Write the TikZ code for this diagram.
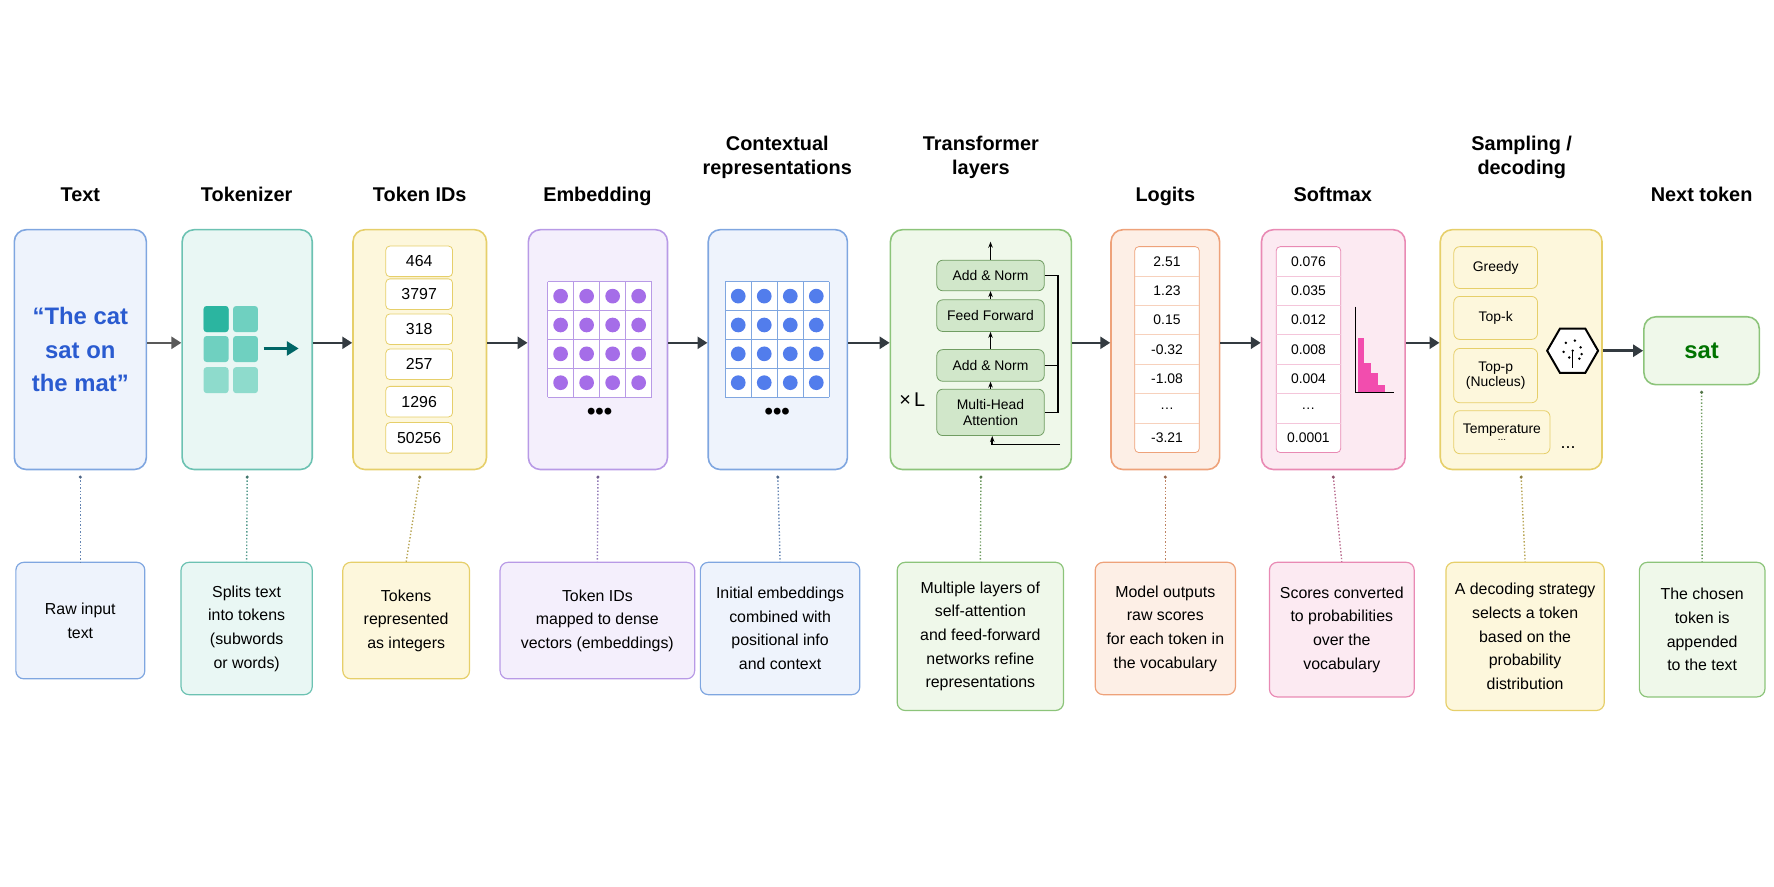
\documentclass[tikz,border=0pt]{standalone}
\usepackage{fontspec}
\setmainfont{Liberation Sans}
\usetikzlibrary{arrows.meta, shapes.geometric, positioning, calc}

\definecolor{cblue}{HTML}{7FA6E0}   \definecolor{fblue}{HTML}{EEF3FC}
\definecolor{cteal}{HTML}{6CC2B2}   \definecolor{fteal}{HTML}{E9F7F4}
\definecolor{cyel}{HTML}{E6CF6A}    \definecolor{fyel}{HTML}{FDF7DC}
\definecolor{cpur}{HTML}{B89AE6}    \definecolor{fpur}{HTML}{F4EFFC}
\definecolor{cgrn}{HTML}{8CC47A}    \definecolor{fgrn}{HTML}{EFF8EA}
\definecolor{corg}{HTML}{EEA27A}    \definecolor{forg}{HTML}{FDEFE6}
\definecolor{cpnk}{HTML}{E98AB4}    \definecolor{fpnk}{HTML}{FCEAF2}
\definecolor{tealA}{HTML}{2BB5A0}   \definecolor{tealB}{HTML}{6FD0C0}
\definecolor{tealC}{HTML}{8EDBCC}   \definecolor{arrgray}{HTML}{333A40}
\definecolor{dotpur}{HTML}{9B5DE5}  \definecolor{dotblu}{HTML}{3F6FEA}
\definecolor{quote}{HTML}{2A5BD0}

\begin{document}
\begin{tikzpicture}[
  x=0.02cm, y=-0.02cm,
  % --- styles ------------------------------------------------------------
  stage/.style={
    rectangle, draw, rounded corners=6pt, line width=0.8pt,
    minimum height=4.24cm
  },
  note/.style={
    rectangle, draw, rounded corners=4pt, line width=0.6pt,
    font=\footnotesize\linespread{1.25}\selectfont, align=center, inner sep=2pt
  },
  title/.style={font=\normalsize\bfseries, align=center, anchor=base},
  cell/.style={rectangle, draw, rounded corners=2pt, font=\footnotesize,
    minimum width=1.18cm, minimum height=0.54cm, inner sep=0pt},
  blk/.style={rectangle, draw=cgrn!80!black, fill=cgrn!40, rounded corners=3pt,
    minimum width=1.9cm, font=\scriptsize, align=center, inner sep=0pt},
  opt/.style={rectangle, draw=cyel, fill=fyel, rounded corners=3pt,
    font=\scriptsize, align=center, inner sep=0pt},
  flow/.style={-{Triangle[length=5pt,width=6pt]}, line width=1.3pt, arrgray},
  small/.style={-{Stealth[length=3pt]}, line width=0.8pt},
  link/.style={densely dotted, line width=0.7pt}
]
\useasboundingbox (0,0) rectangle (1568,784);

% --------------------- titles -------------------------------------------
\node[title] at (71,178)   {Text};
\node[title] at (218,178)  {Tokenizer};
\node[title] at (371,178)  {Token IDs};
\node[title] at (528,178)  {Embedding};
\node[title] at (687,154)  {Contextual\\representations};
\node[title] at (867,154)  {Transformer\\layers};
\node[title] at (1030,178) {Logits};
\node[title] at (1178,178) {Softmax};
\node[title] at (1345,154) {Sampling /\\decoding};
\node[title] at (1504,178) {Next token};

% --------------------- top row ------------------------------------------
\node[stage, draw=cblue, fill=fblue, minimum width=2.28cm] (text) at (71,309)
  {\parbox{2.1cm}{\centering\color{quote}\large\bfseries “The cat\\[3pt] sat on\\[3pt] the mat”}};
\node[stage, draw=cteal, fill=fteal, minimum width=2.3cm] (tok) at (218.5,309) {};
\node[stage, draw=cyel, fill=fyel, minimum width=2.36cm] (ids) at (371,309) {};
\node[stage, draw=cpur, fill=fpur, minimum width=2.46cm] (emb) at (528.5,309) {};
\node[stage, draw=cblue, fill=fblue, minimum width=2.46cm] (ctx) at (687.5,309) {};
\node[stage, draw=cgrn, fill=fgrn, minimum width=3.2cm] (trf) at (867,309) {};
\node[stage, draw=corg, fill=forg, minimum width=1.92cm] (logit) at (1030,309) {};
\node[stage, draw=cpnk, fill=fpnk, minimum width=2.54cm] (soft) at (1178.5,309) {};
\node[stage, draw=cyel, fill=fyel, minimum width=2.86cm] (samp) at (1344.5,309) {};
\node[stage, draw=cgrn, fill=fgrn, minimum width=2.04cm, minimum height=1.2cm,
  font=\large\bfseries, text=green!45!black] (next) at (1504,310) {sat};

% --------------------- main flow arrows ---------------------------------
\draw[flow, draw=gray!70!black] (text.east |- 0,303) -- (tok.west |- 0,303);
\foreach \a/\b in {tok/ids, ids/emb, emb/ctx, ctx/trf, trf/logit, logit/soft, soft/samp}
  \draw[flow] (\a.east |- 0,303) -- (\b.west |- 0,303);
\draw[flow] (samp.east |- next.west) -- (next.west);

% --------------------- tokenizer grid -----------------------------------
\foreach \xc in {191,217}
  \foreach \yc/\col in {282/tealB,308.5/tealB,336/tealC}
    \fill[\col, rounded corners=1.5pt] (\xc-11,\yc-11.5) rectangle (\xc+11,\yc+11.5);
\fill[tealA, rounded corners=1.5pt] (180,270.5) rectangle (202,293.5);
\coordinate (tokA) at (233,308);
\coordinate (tokB) at (264,308);
\draw[-{Triangle[length=6pt,width=7pt]}, line width=1.6pt, teal!80!black] (tokA) -- (tokB);

% --------------------- token ids ----------------------------------------
\foreach \v/\yc in {464/231, 3797/260, 318/291, 257/322, 1296/355, 50256/387}
  \node[cell, draw=cyel, fill=white] at (370.5,\yc) {\v};

% --------------------- embedding / contextual grids ---------------------
\foreach \xs/\ln/\dt in {484/cpur/dotpur, 641/cblue/dotblu} {
  \fill[white] (\xs,249) rectangle (\xs+92,351);
  \foreach \i in {0,...,4} {
    \draw[\ln] (\xs+23*\i,249) -- (\xs+23*\i,351);
    \draw[\ln] (\xs,249+25.5*\i) -- (\xs+92,249+25.5*\i);
  }
  \foreach \i in {0,...,3}
    \foreach \j in {0,...,3}
      \fill[\dt!90] (\xs+11.5+23*\i,261.75+25.5*\j) circle (6.5);
  \node[font=\large\bfseries] at (\xs+46,366) {•••};
}

% --------------------- transformer block --------------------------------
\node[blk, minimum height=0.54cm] (an2) at (875.5,243.5) {Add \& Norm};
\node[blk, minimum height=0.56cm] (ff)  at (875.5,279)   {Feed Forward};
\node[blk, minimum height=0.56cm] (an1) at (875.5,323)   {Add \& Norm};
\node[blk, minimum height=0.82cm] (mha) at (875.5,364.5) {Multi-Head\\Attention};
\node[font=\normalsize, anchor=east] (xl) at (824,353) {×\,L};
\draw[small] (an2.north) -- ++(0,-16);
\draw[small] (ff.north) -- (an2.south);
\draw[small] (an1.north) -- (ff.south);
\draw[small] (mha.north) -- (an1.south);
\coordinate (inR) at (937,393);
\draw[small] (inR) -- (877,393) -- (mha.south -| 877,0);
\draw[line width=0.8pt] (an2.east) -- (935,243.5) -- (935,364.5) -- (mha.east |- 0,364.5);
\draw[line width=0.8pt] (an1.east) -- (935,323);

% --------------------- logits / softmax columns -------------------------
\foreach \xs/\ln/\vals in {1003/corg/{2.51,1.23,0.15,-0.32,-1.08,\dots,-3.21},
                           1128/cpnk/{0.076,0.035,0.012,0.008,0.004,\dots,0.0001}} {
  \draw[\ln, fill=white, rounded corners=2pt] (\xs,218) rectangle (\xs+57,400);
  \foreach \k in {1,...,6}
    \draw[\ln!50] (\xs,218+26*\k) -- (\xs+57,218+26*\k);
  \foreach \v [count=\k from 0] in \vals
    \node[font=\scriptsize] at (\xs+28.5,231+26*\k) {\v};
}
% histogram
\foreach \xa/\top in {1200/299, 1206/321, 1212/330, 1218/340}
  \fill[magenta!70] (\xa,347) rectangle (\xa+6,\top);
\draw[line width=0.8pt] (1198,271) -- (1198,347) -- (1232,347);

% --------------------- sampling options ---------------------------------
\node[opt, minimum width=1.48cm, minimum height=0.74cm] at (1322,236.5) {Greedy};
\node[opt, minimum width=1.48cm, minimum height=0.76cm] at (1322,281) {Top-k};
\node[opt, minimum width=1.48cm, minimum height=0.96cm] at (1322,332) {Top-p\\(Nucleus)};
\node[opt, minimum width=1.7cm, minimum height=0.76cm] at (1327.5,382)
  {Temperature\\[-4pt]{\tiny ...}};
\node[regular polygon, regular polygon sides=6, draw, line width=1pt,
  minimum size=0.9cm, fill=white] (dice) at (1390,310) {};
\foreach \dx/\dy in {-6/-7, 2/-9, 7/-3, -8/1, -3/6, 6/7, 0/0, 8/3}
  \fill (1390+\dx,310+\dy) circle (1.2);
\draw[line width=0.5pt] (1390,310) -- (1390,325);
\node[font=\small] at (1386,396) {...};

% --------------------- bottom notes -------------------------------------
\node[note, draw=cblue, fill=fblue, minimum width=2.28cm, minimum height=2.06cm] (n1) at (71,548.5)
  {Raw input\\text};
\node[note, draw=cteal, fill=fteal, minimum width=2.32cm, minimum height=2.34cm] (n2) at (218,555.5)
  {Splits text\\into tokens\\(subwords\\or words)};
\node[note, draw=cyel, fill=fyel, minimum width=2.24cm, minimum height=2.06cm] (n3) at (359,548.5)
  {Tokens\\represented\\as integers};
\node[note, draw=cpur, fill=fpur, minimum width=3.44cm, minimum height=2.06cm] (n4) at (528,548.5)
  {Token IDs\\mapped to dense\\vectors (embeddings)};
\node[note, draw=cblue, fill=fblue, minimum width=2.82cm, minimum height=2.34cm] (n5) at (689.5,555.5)
  {Initial embeddings\\combined with\\positional info\\and context};
\node[note, draw=cgrn, fill=fgrn, minimum width=2.94cm, minimum height=2.62cm] (n6) at (866.5,562.5)
  {Multiple layers of\\self-attention\\and feed-forward\\networks refine\\representations};
\node[note, draw=corg, fill=forg, minimum width=2.48cm, minimum height=2.34cm] (n7) at (1030,555.5)
  {Model outputs\\raw scores\\for each token in\\the vocabulary};
\node[note, draw=cpnk, fill=fpnk, minimum width=2.56cm, minimum height=2.38cm] (n8) at (1186,556.5)
  {Scores converted\\to probabilities\\over the\\vocabulary};
\node[note, draw=cyel, fill=fyel, minimum width=2.8cm, minimum height=2.62cm] (n9) at (1348,562.5)
  {A decoding strategy\\selects a token\\based on the\\probability\\distribution};
\node[note, draw=cgrn, fill=fgrn, minimum width=2.22cm, minimum height=2.38cm] (n10) at (1504.5,556.5)
  {The chosen\\token is\\appended\\to the text};

% --------------------- dotted links -------------------------------------
\foreach \a/\b/\col in {text/n1/cblue, tok/n2/cteal, ids/n3/cyel, emb/n4/cpur,
  ctx/n5/cblue, trf/n6/cgrn, logit/n7/corg, soft/n8/cpnk, samp/n9/cyel, next/n10/cgrn} {
  \draw[link, \col!80!black] ($(\a.south)+(0,6)$) -- (\b.north);
  \fill[\col!60!black] ($(\a.south)+(0,6)$) circle (1.5);
}
\end{tikzpicture}
\end{document}
